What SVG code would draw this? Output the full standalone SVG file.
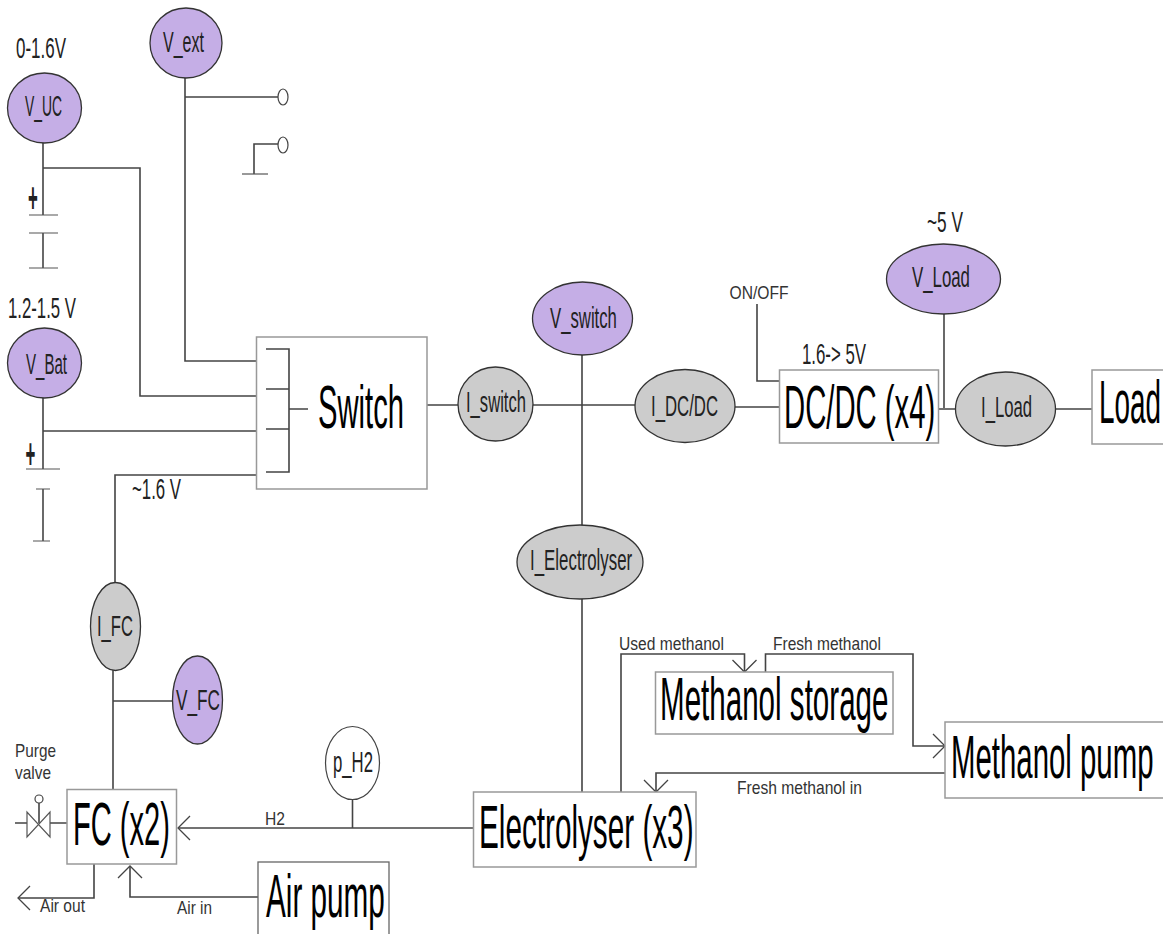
<svg xmlns="http://www.w3.org/2000/svg" width="1163" height="934" viewBox="0 0 1163 934">
<style>
text{font-family:"Liberation Sans",Arial,sans-serif;fill:#111}
.big{font-size:62px;fill:#000}
.mid{font-size:29px;fill:#222}
.sm{font-size:17.500px;fill:#333}
.plus{font-size:42px;font-weight:bold;fill:#222}
.v{fill:#c5aee6;stroke:#333;stroke-width:1.3}
.i{fill:#cccccc;stroke:#333;stroke-width:1.3}
.p{fill:#fff;stroke:#444;stroke-width:1.2}
.box{fill:#fff;stroke:#999;stroke-width:1.5}
.boxd{fill:#fff;stroke:#666;stroke-width:1.3}
.w{fill:none;stroke:#444;stroke-width:1.6}
.t{fill:none;stroke:#555;stroke-width:1.2}
</style>
<defs>
<marker id="a" markerUnits="userSpaceOnUse" markerWidth="30" markerHeight="30" refX="15" refY="15" orient="auto" viewBox="0 0 30 30">
<path d="M3 3L15 15L3 27" fill="none" stroke="#444" stroke-width="1.3"/>
</marker>
</defs>
<g id="connectors" class="w">
<path d="M43 143V215M43 168H140V396H256"/>
<path d="M43 233V268"/>
<path d="M43 398V469M43 431H257"/>
<path d="M43 489V541"/>
<path d="M185 78V361H257M185 97H278"/>
<path d="M278 144H254V174"/>
<path d="M115 583V475H256"/>
<path d="M427 405H458M532 405H635M735 407H779M939 409H955M1056 409H1092"/>
<path d="M582 355V526M582 599V792"/>
<path d="M944 314V408"/>
<path d="M757 304V381H779"/>
<path d="M113 670V789M113 701H173"/>
<path d="M15 823H27M50 823H67M39 823V803"/>
<path d="M473 828H178" marker-end="url(#a)"/>
<path d="M352.500 800V828"/>
<path d="M94 864V898H18" marker-end="url(#a)"/>
<path d="M258 897H130V866" marker-end="url(#a)"/>
<path d="M621 792V654H744.500V672" marker-end="url(#a)"/>
<path d="M765.500 672V654H913V746H945" marker-end="url(#a)"/>
<path d="M945 773H656V792" marker-end="url(#a)"/>
</g>
<g id="symbols" class="t">
<path d="M29 215H58M29 233H58M29 268H58"/>
<path d="M26 469H60M36 489H50M33 541H50"/>
<path d="M242 174H268"/>
<ellipse cx="283" cy="97" rx="5" ry="8" class="p"/>
<ellipse cx="283" cy="145" rx="5" ry="8" class="p"/>
</g>
<g id="uc-plus"><text transform="translate(28 212) scale(.4 1)" class="plus">+</text></g>
<g id="bat-plus"><text transform="translate(25.500 468) scale(.4 1)" class="plus">+</text></g>
<g id="valve">
<path d="M27 812V837L50 812V837Z" class="t"/>
<circle cx="39" cy="799" r="4" class="p"/>
<text transform="translate(15 757) scale(.878 1)" class="sm">Purge</text>
<text transform="translate(15 779) scale(.882 1)" class="sm">valve</text>
</g>
<g id="v_ext"><ellipse cx="186" cy="43" rx="36" ry="35" class="v"/><text transform="translate(163 52) scale(.553 1)" class="mid">V_ext</text></g>
<g id="v_uc"><ellipse cx="44.500" cy="108" rx="37" ry="35" class="v"/><text transform="translate(25 116) scale(.479 1)" class="mid">V_UC</text></g>
<g id="v_bat"><ellipse cx="44.500" cy="363" rx="37" ry="35" class="v"/><text transform="translate(26 374) scale(.519 1)" class="mid">V_Bat</text></g>
<g id="label-uc"><text transform="translate(16 58) scale(.585 1)" class="mid">0-1.6V</text></g>
<g id="label-bat"><text transform="translate(8 318) scale(.578 1)" class="mid">1.2-1.5 V</text></g>
<g id="label-fc"><text transform="translate(132 499) scale(.579 1)" class="mid">~1.6 V</text></g>
<g id="switch">
<rect x="256.500" y="337" width="170.500" height="152" class="box"/>
<path d="M266 349H289V472H266M266 389H289M266 429H289M289 409H308" class="w"/>
<text transform="translate(318 428) scale(.471 1)" class="big">Switch</text>
</g>
<g id="i_switch"><ellipse cx="495.500" cy="404" rx="37.500" ry="37" class="i"/><text transform="translate(466 412) scale(.573 1)" class="mid">I_switch</text></g>
<g id="v_switch"><ellipse cx="582.500" cy="318.500" rx="50" ry="36.500" class="v"/><text transform="translate(550 328) scale(.577 1)" class="mid">V_switch</text></g>
<g id="i_dcdc"><ellipse cx="685" cy="406" rx="50" ry="36.500" class="i"/><text transform="translate(651 416) scale(.578 1)" class="mid">I_DC/DC</text></g>
<g id="dcdc"><rect x="779.500" y="370" width="159" height="73" class="box"/><text transform="translate(784 428) scale(.472 1)" class="big">DC/DC (x4)</text></g>
<g id="label-onoff"><text transform="translate(729.500 299) scale(.893 1)" class="sm">ON/OFF</text></g>
<g id="label-dcdc"><text transform="translate(802 364) scale(.58 1)" class="mid">1.6-&gt; 5V</text></g>
<g id="label-load"><text transform="translate(927 232) scale(.595 1)" class="mid">~5 V</text></g>
<g id="v_load"><ellipse cx="943.500" cy="279" rx="57" ry="35" class="v"/><text transform="translate(912 287) scale(.58 1)" class="mid">V_Load</text></g>
<g id="i_load"><ellipse cx="1005.500" cy="409" rx="50" ry="37" class="i"/><text transform="translate(981 417) scale(.575 1)" class="mid">I_Load</text></g>
<g id="load"><rect x="1092" y="370" width="72" height="74" class="box"/><text transform="translate(1099 423) scale(.45 1)" class="big">Load</text></g>
<g id="i_electrolyser"><ellipse cx="580" cy="562" rx="63" ry="37" class="i"/><text transform="translate(530 570) scale(.582 1)" class="mid">I_Electrolyser</text></g>
<g id="i_fc"><ellipse cx="115.500" cy="626.500" rx="25" ry="44" class="i"/><text transform="translate(97 636) scale(.573 1)" class="mid">I_FC</text></g>
<g id="v_fc"><ellipse cx="197.500" cy="700" rx="25" ry="44" class="v"/><text transform="translate(176 710) scale(.594 1)" class="mid">V_FC</text></g>
<g id="p_h2"><ellipse cx="352.500" cy="763" rx="27" ry="36.500" class="p"/><text transform="translate(333 772) scale(.577 1)" class="mid">p_H2</text></g>
<g id="fc"><rect x="67" y="789.500" width="109.500" height="74.500" class="box"/><text transform="translate(73 845) scale(.469 1)" class="big">FC (x2)</text></g>
<g id="air-pump"><rect x="258" y="862" width="131" height="73" class="boxd"/><text transform="translate(266 917) scale(.479 1)" class="big">Air pump</text></g>
<g id="electrolyser"><rect x="473.500" y="792" width="222.500" height="75" class="box"/><text transform="translate(479 848) scale(.479 1)" class="big">Electrolyser (x3)</text></g>
<g id="methanol-storage"><rect x="655.500" y="672" width="237.500" height="62" class="box"/><text transform="translate(660 720) scale(.477 1)" class="big">Methanol storage</text></g>
<g id="methanol-pump"><rect x="945" y="722" width="219" height="76" class="box"/><text transform="translate(951 778) scale(.474 1)" class="big">Methanol pump</text></g>
<g id="flow-labels">
<text transform="translate(265 825) scale(.894 1)" class="sm">H2</text>
<text transform="translate(40 912) scale(.89 1)" class="sm">Air out</text>
<text transform="translate(177 914) scale(.877 1)" class="sm">Air in</text>
<text transform="translate(619 650) scale(.892 1)" class="sm">Used methanol</text>
<text transform="translate(773 650) scale(.888 1)" class="sm">Fresh methanol</text>
<text transform="translate(737 794) scale(.893 1)" class="sm">Fresh methanol in</text>
</g>
</svg>
